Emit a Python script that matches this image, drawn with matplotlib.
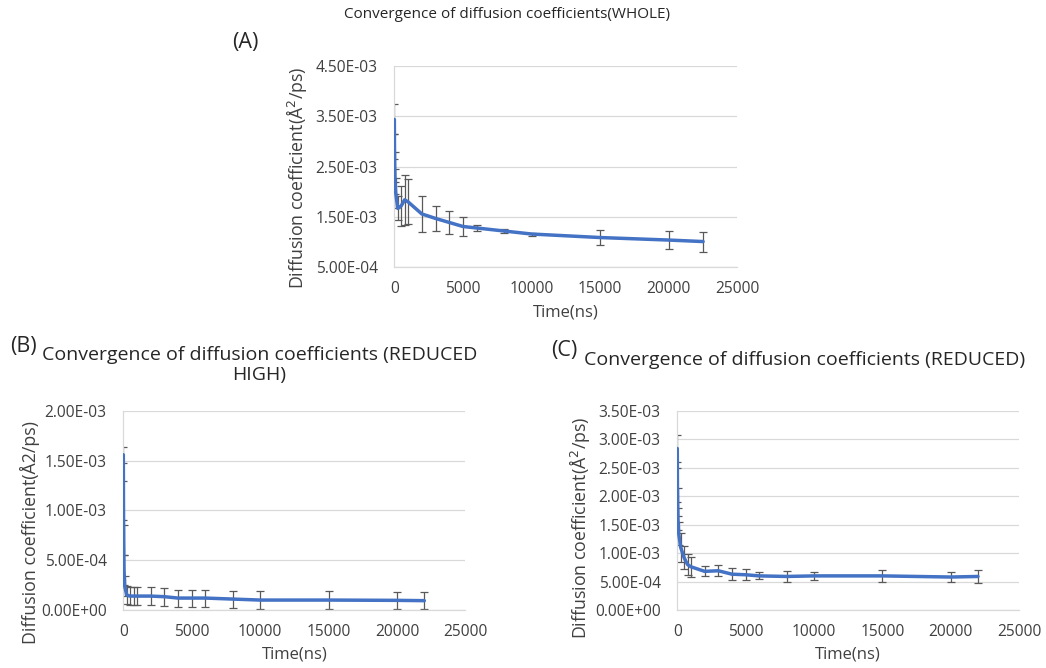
import numpy as np
import matplotlib.pyplot as plt
from matplotlib.ticker import FuncFormatter, MultipleLocator

plt.rcParams['font.family'] = ['Open Sans', 'DejaVu Sans']

# (A) WHOLE
time_a = [0, 10, 25, 50, 100, 250, 500, 750, 1000, 2000, 3000, 4000, 5000,
          6000, 8000, 10000, 15000, 20000, 22500]
diff_a = [3.44e-3, 2.90e-3, 2.50e-3, 2.20e-3, 1.98e-3, 1.67e-3, 1.72e-3,
          1.84e-3, 1.80e-3, 1.56e-3, 1.47e-3, 1.39e-3, 1.31e-3, 1.28e-3,
          1.22e-3, 1.16e-3, 1.09e-3, 1.04e-3, 1.01e-3]
err_a = [3.0e-4, 2.5e-4, 3.0e-4, 2.5e-4, 3.0e-4, 2.4e-4, 4.0e-4, 5.0e-4,
         4.5e-4, 3.6e-4, 2.4e-4, 2.2e-4, 1.9e-4, 5.0e-5, 3.0e-5, 3.0e-5,
         1.5e-4, 1.8e-4, 2.0e-4]

# (B) REDUCED HIGH
time_b = [0, 10, 25, 50, 100, 250, 500, 750, 1000, 2000, 3000, 4000, 5000,
          6000, 8000, 10000, 15000, 20000, 22000]
diff_b = [1.56e-3, 1.10e-3, 7.0e-4, 4.0e-4, 2.4e-4, 1.5e-4, 1.4e-4, 1.4e-4,
          1.4e-4, 1.4e-4, 1.34e-4, 1.2e-4, 1.2e-4, 1.2e-4, 1.1e-4, 1.0e-4,
          1.0e-4, 9.7e-5, 9.4e-5]
err_b = [8.0e-5, 2.0e-4, 1.5e-4, 1.5e-4, 1.0e-4, 9.0e-5, 9.0e-5, 9.0e-5,
         9.0e-5, 9.0e-5, 9.0e-5, 8.5e-5, 8.5e-5, 8.5e-5, 8.5e-5, 8.7e-5,
         8.7e-5, 8.7e-5, 8.7e-5]

# (C) REDUCED
time_c = [0, 10, 25, 50, 100, 250, 500, 750, 1000, 2000, 3000, 4000, 5000,
          6000, 8000, 10000, 15000, 20000, 22000]
diff_c = [2.84e-3, 2.20e-3, 1.90e-3, 1.60e-3, 1.35e-3, 1.10e-3, 9.2e-4,
          8.0e-4, 7.6e-4, 6.8e-4, 6.9e-4, 6.3e-4, 6.2e-4, 6.0e-4, 5.9e-4,
          6.0e-4, 6.0e-4, 5.8e-4, 5.9e-4]
err_c = [2.4e-4, 3.0e-4, 2.5e-4, 2.0e-4, 2.0e-4, 2.5e-4, 2.0e-4, 1.8e-4,
         1.8e-4, 9.0e-5, 1.0e-4, 1.0e-4, 1.0e-4, 6.0e-5, 1.0e-4, 7.0e-5,
         1.1e-4, 8.0e-5, 1.1e-4]

line_color = '#4472C4'
grid_color = '#D9D9D9'
text_color = '#404040'
title_color = '#262626'

fig = plt.figure(figsize=(10.46, 6.68), dpi=100)

def sci(v, pos):
    return f'{v:.2E}'

def setup(ax, time, diff, err, ymin, ymax, ystep, ylabel):
    ax.errorbar(time, diff, yerr=err, fmt='none', ecolor='#595959',
                elinewidth=0.9, capsize=3, capthick=0.9, zorder=2)
    ax.plot(time, diff, color=line_color, lw=2.5, zorder=3,
            solid_capstyle='round', solid_joinstyle='round')
    ax.set_xlim(0, 25000)
    ax.set_ylim(ymin, ymax)
    ax.xaxis.set_major_locator(MultipleLocator(5000))
    ax.set_yticks(np.arange(ymin, ymax + ystep / 2, ystep))
    ax.yaxis.set_major_formatter(FuncFormatter(sci))
    ax.grid(axis='y', color=grid_color, lw=0.9)
    ax.set_axisbelow(True)
    for s in ['top', 'right']:
        ax.spines[s].set_visible(False)
    for s in ['left', 'bottom']:
        ax.spines[s].set_color(grid_color)
        ax.spines[s].set_linewidth(0.9)
    ax.tick_params(length=0, labelsize=11.2, labelcolor=text_color)
    ax.tick_params(axis='y', pad=12)
    ax.tick_params(axis='x', pad=10)
    ax.set_xlabel('Time(ns)', fontsize=12, color=text_color, labelpad=5)
    ax.set_ylabel(ylabel, fontsize=12.8, color=text_color)

ax_a = fig.add_axes([0.377, 0.600, 0.328, 0.301])
setup(ax_a, time_a, diff_a, err_a, 5e-4, 4.5e-3, 1e-3,
      'Diffusion coefficient(Å$^2$/ps)')
ax_a.yaxis.set_label_coords(-0.25, 0.445)
fig.text(0.4844, 0.978, 'Convergence of diffusion coefficients(WHOLE)',
         ha='center', va='center', fontsize=11, color=title_color)
fig.text(0.235, 0.936, '(A)', ha='center', va='center', fontsize=15.5,
         color=title_color)

ax_b = fig.add_axes([0.1179, 0.0868, 0.327, 0.298])
setup(ax_b, time_b, diff_b, err_b, 0, 2e-3, 5e-4,
      'Diffusion coefficient(Å2/ps)')
ax_b.yaxis.set_label_coords(-0.245, 0.39)
fig.text(0.248, 0.454, 'Convergence of diffusion coefficients (REDUCED\nHIGH)',
         ha='center', va='center', fontsize=14, color=title_color,
         linespacing=1.15)
fig.text(0.022, 0.482, '(B)', ha='center', va='center', fontsize=15.5,
         color=title_color)

ax_c = fig.add_axes([0.6475, 0.0868, 0.3267, 0.298])
setup(ax_c, time_c, diff_c, err_c, 0, 3.5e-3, 5e-4,
      'Diffusion coefficient(Å$^2$/ps)')
ax_c.yaxis.set_label_coords(-0.25, 0.415)
fig.text(0.7696, 0.461, 'Convergence of diffusion coefficients (REDUCED)',
         ha='center', va='center', fontsize=14, color=title_color)
fig.text(0.539, 0.476, '(C)', ha='center', va='center', fontsize=15.5,
         color=title_color)

fig.savefig('out.png', dpi=100)
